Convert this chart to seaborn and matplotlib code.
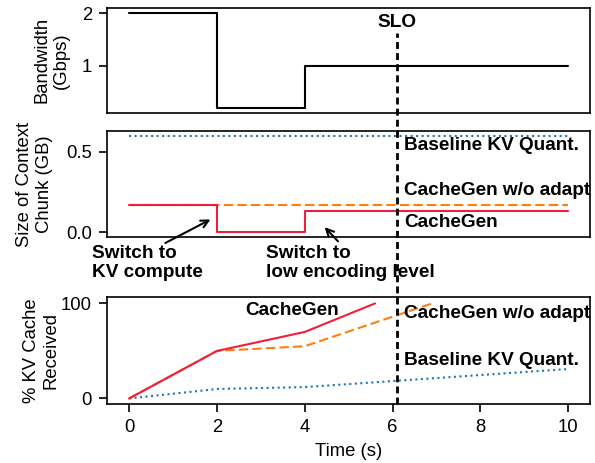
import matplotlib
matplotlib.use('Agg')
import matplotlib.pyplot as plt
import matplotlib.transforms as mtransforms
import seaborn as sns

sns.set_style('ticks')
plt.rcParams['font.family'] = ['Liberation Sans', 'DejaVu Sans']
plt.rcParams['font.size'] = 13.3
for key in ('text.color', 'axes.labelcolor', 'xtick.color', 'ytick.color',
            'axes.edgecolor'):
    plt.rcParams[key] = 'black'

# Bandwidth trace (step function)
bw_time = [0, 2, 4, 10]
bw_gbps = [2, 0.2, 1, 1]

# Size of context chunk per method (step functions)
size_time = [0, 2, 4, 10]
size_baseline = [0.6, 0.6, 0.6, 0.6]
size_noadapt = [0.17, 0.17, 0.17, 0.17]
size_cachegen = [0.17, 0.0, 0.13, 0.13]

# % KV cache received
recv_baseline_t = [0, 2, 4, 10]
recv_baseline = [0, 10, 12, 31]
recv_noadapt_t = [0, 2, 4, 6.9]
recv_noadapt = [0, 50, 55, 100]
recv_cachegen_t = [0, 2, 4, 5.6]
recv_cachegen = [0, 50, 70, 100]

slo_time = 6.1
x_ticks = [0, 2, 4, 6, 8, 10]

c_red = '#ee1f3e'
c_orange = '#ff7f0e'
c_blue = '#1f77b4'
dash = (0, (4.5, 2))
bold = dict(fontweight='bold', fontsize=13.7)

fig = plt.figure(figsize=(5.95, 4.63), dpi=100)
ax1 = fig.add_axes([0.180, 0.756, 0.812, 0.227])
ax2 = fig.add_axes([0.180, 0.488, 0.812, 0.229])
ax3 = fig.add_axes([0.180, 0.127, 0.812, 0.231])

# top: bandwidth
sns.lineplot(x=bw_time, y=bw_gbps, ax=ax1, color='black', lw=1.5,
             drawstyle='steps-post', estimator=None)
ax1.set_ylim(0.1, 2.1)
ax1.set_yticks([1, 2])
ax1.set_ylabel('Bandwidth\n(Gbps)')
ax1.yaxis.set_label_coords(-0.077, 0.5)
ax1.text(slo_time, 1.82, 'SLO', ha='center', va='center', **bold)

# middle: chunk size
sns.lineplot(x=size_time, y=size_baseline, ax=ax2, color=c_blue, lw=1.5,
             linestyle=':', estimator=None)
sns.lineplot(x=size_time, y=size_noadapt, ax=ax2, color=c_orange, lw=1.5,
             linestyle=dash, drawstyle='steps-post', estimator=None)
sns.lineplot(x=size_time, y=size_cachegen, ax=ax2, color=c_red, lw=1.5,
             drawstyle='steps-post', estimator=None)
ax2.set_ylim(-0.03, 0.63)
ax2.set_yticks([0.0, 0.5])
ax2.set_ylabel('Size of Context\nChunk (GB)')
ax2.yaxis.set_label_coords(-0.112, 0.5)
ax2.text(6.27, 0.54, 'Baseline KV Quant.', va='center', **bold)
ax2.text(6.27, 0.258, 'CacheGen w/o adapt', va='center', **bold)
ax2.text(6.27, 0.058, 'CacheGen', va='center', **bold)

ax2.text(-0.84, -0.08, 'Switch to\nKV compute', ha='left', va='top',
         linespacing=1.12, clip_on=False, **bold)
ax2.text(3.11, -0.08, 'Switch to\nlow encoding level', ha='left', va='top',
         linespacing=1.12, clip_on=False, **bold)
ax2.annotate('', xy=(1.91, 0.0875), xytext=(0.77, -0.075),
             arrowprops=dict(arrowstyle='->', color='black', lw=1.5),
             annotation_clip=False)
ax2.annotate('', xy=(4.41, 0.044), xytext=(4.8, -0.069),
             arrowprops=dict(arrowstyle='->', color='black', lw=1.5),
             annotation_clip=False)

# bottom: % received
sns.lineplot(x=recv_baseline_t, y=recv_baseline, ax=ax3, color=c_blue, lw=1.5,
             linestyle=':', estimator=None)
sns.lineplot(x=recv_noadapt_t, y=recv_noadapt, ax=ax3, color=c_orange, lw=1.5,
             linestyle=dash, estimator=None)
sns.lineplot(x=recv_cachegen_t, y=recv_cachegen, ax=ax3, color=c_red, lw=1.5,
             estimator=None)
ax3.set_ylim(-6, 106.5)
ax3.set_yticks([0, 100])
ax3.set_ylabel('% KV Cache\nReceived')
ax3.yaxis.set_label_coords(-0.099, 0.5)
ax3.set_xlabel('Time (s)', labelpad=5)
ax3.text(2.64, 92.6, 'CacheGen', va='center', **bold)
ax3.text(6.27, 89.5, 'CacheGen w/o adapt', va='center', **bold)
ax3.text(6.27, 40, 'Baseline KV Quant.', va='center', **bold)

for ax in (ax1, ax2, ax3):
    ax.set_xlim(-0.5, 10.5)
    ax.set_xticks(x_ticks)
    for s in ax.spines.values():
        s.set_visible(True)
        s.set_linewidth(1.2)
    ax.tick_params(length=5.5, width=1.2, labelsize=13.3, pad=5.5)
for ax in (ax1, ax2):
    ax.tick_params(axis='x', bottom=False, labelbottom=False)

# SLO line spanning all panels
trans = mtransforms.blended_transform_factory(ax3.transData, ax3.transAxes)
ax3.plot([slo_time, slo_time], [0, 3.47], transform=trans, color='black',
         lw=2, linestyle=(0, (2.5, 1.5)), clip_on=False, zorder=5)

fig.savefig('out.png', dpi=100)
